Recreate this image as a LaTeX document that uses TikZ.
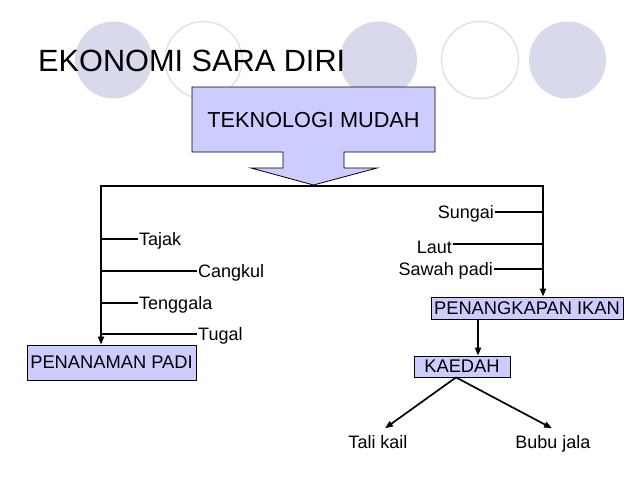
\documentclass[tikz,border=0pt]{standalone}
\usepackage{fontspec}
\setmainfont{Liberation Sans}
\usetikzlibrary{arrows.meta}
\definecolor{boxfill}{HTML}{CCCCFF}
\definecolor{circfill}{HTML}{D9D9EC}
\definecolor{circline}{HTML}{DCDCEB}
\begin{document}
\begin{tikzpicture}[x=1pt,y=-1pt,
  lbl/.style={inner sep=1pt, text height=12.5pt, text depth=0pt, font=\fontsize{18}{18}\selectfont},
  boxlbl/.style={draw=black, line width=0.8pt, fill=boxfill, inner sep=0pt, font=\fontsize{18.3}{18.3}\selectfont},
  trunk/.style={line width=2.3pt},
  twig/.style={line width=1.7pt},
  arr/.style={-{Triangle[length=8pt,width=6pt]}},
  dec/.style={circle, minimum size=77pt, inner sep=0pt},
  decfill/.style={dec, fill=circfill},
  decline/.style={dec, draw=circline, line width=1.2pt},
]
\useasboundingbox[fill=white] (0,0) rectangle (638,479);
% decorative circles
\node[decfill] (c1) at (113.5,60) {};
\node[decline] (c2) at (203.5,60) {};
\node[decfill] (c3) at (378.5,60) {};
\node[decline] (c4) at (480,60) {};
\node[decfill] (c5) at (567.5,60) {};
% title
\node[anchor=base west, inner sep=0pt, font=\fontsize{30.7}{30.7}\selectfont] (title) at (38,71) {EKONOMI SARA DIRI};
% arrow callout
\draw[fill=boxfill, draw=black, line width=0.8pt, line join=miter]
  (192,87) -- (435,87) -- (435,152) -- (344,152) -- (344,168) -- (377,168)
  -- (313.5,185) -- (251,168) -- (283,168) -- (283,152) -- (192,152) -- cycle;
\node[anchor=base, inner sep=0pt, font=\fontsize{21.7}{21.7}\selectfont] (tek) at (313.5,127) {TEKNOLOGI MUDAH};
% boxes
\node[boxlbl, minimum width=169pt, minimum height=35pt] (padi) at (111.5,362.5) {PENANAMAN PADI};
\node[boxlbl, minimum width=192pt, minimum height=22pt] (ikan) at (527,308) {PENANGKAPAN IKAN};
\node[boxlbl, minimum width=96pt, minimum height=21pt] (kaedah) at (462,366.5) {KAEDAH};
% trunk
\coordinate (jl) at (101,186);
\coordinate (jr) at (543,186);
\coordinate (kstem) at (478,0);
\draw[trunk, line join=miter, {Triangle[length=8pt,width=6pt]}-{Triangle[length=8pt,width=6pt]}]
  (jl |- padi.north) -- (jl) -- (jr) -- (jr |- ikan.north);
% left labels
\node[lbl, anchor=west] (tajak) at (138,239) {Tajak};
\node[lbl, anchor=west] (cangkul) at (197,271) {Cangkul};
\node[lbl, anchor=west] (tenggala) at (138,303) {Tenggala};
\node[lbl, anchor=west] (tugal) at (197,334) {Tugal};
\foreach \n in {tajak,cangkul,tenggala,tugal}
  \draw[twig] (jl |- \n.west) -- (\n.west);
% right labels
\node[lbl, anchor=east] (sungai) at (495,212) {Sungai};
\node[lbl, anchor=east, text height=18pt] (laut) at (453,244) {Laut};
\node[lbl, anchor=east] (sawah) at (494,269) {Sawah padi};
\foreach \n in {sungai,laut,sawah}
  \draw[twig] (\n.east) -- (jr |- \n.east);
% kaedah
\draw[trunk, arr] (ikan.south -| kstem) -- (kaedah.north -| kstem);
\node[lbl, anchor=base, inner sep=2pt] (tali) at (378,448) {Tali kail};
\node[lbl, anchor=base, inner sep=2pt] (bubu) at (553,448) {Bubu jala};
\draw[twig, arr] ([xshift=-6pt]kaedah.south) -- ([xshift=7pt,yshift=5pt]tali.north);
\draw[twig, arr] ([xshift=-6pt]kaedah.south) -- ([xshift=-1pt,yshift=5pt]bubu.north);
\end{tikzpicture}
\end{document}
